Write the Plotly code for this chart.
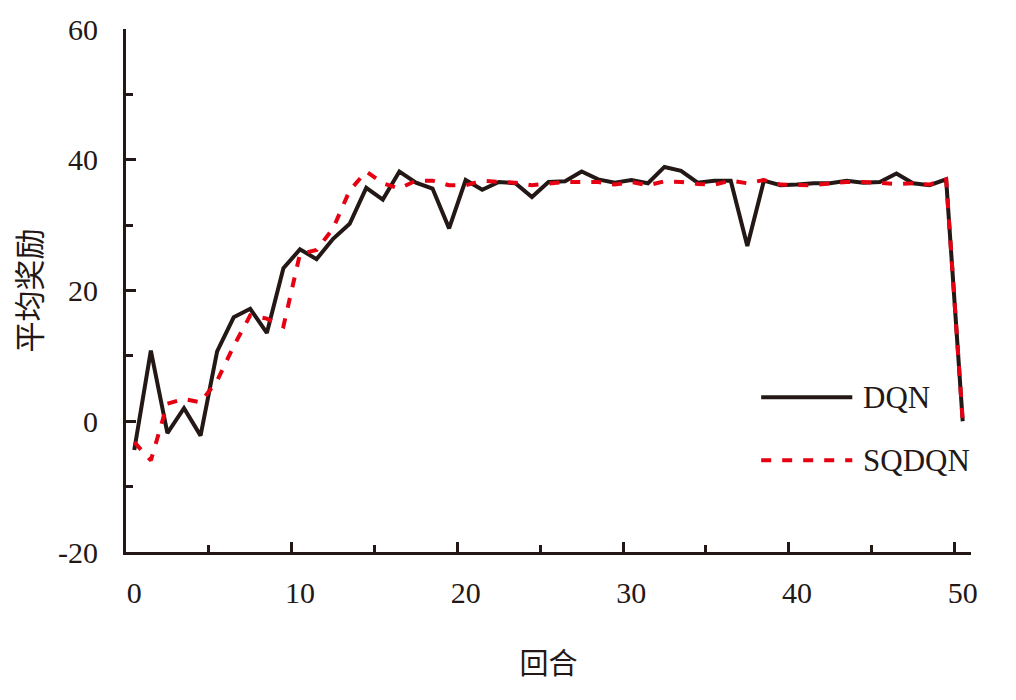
import plotly.graph_objects as go

episodes = list(range(51))
dqn = [-4.4, 10.8, -1.8, 2.0, -2.2, 10.7, 15.9, 17.2, 13.5, 23.4,
       26.3, 24.8, 27.9, 30.2, 35.7, 33.9, 38.2, 36.5, 35.6, 29.5,
       36.9, 35.4, 36.6, 36.4, 34.3, 36.6, 36.7, 38.2, 37.0, 36.5,
       36.9, 36.4, 38.9, 38.3, 36.5, 36.8, 36.8, 26.8, 36.8, 36.1,
       36.2, 36.4, 36.4, 36.8, 36.5, 36.6, 37.9, 36.4, 36.1, 37.0, 0.0]
sqdqn = [-3.2, -6.0, 2.7, 3.4, 2.9, 6.2, 11.5, 16.2, 15.7, 14.5,
         25.6, 26.2, 29.5, 35.3, 38.2, 36.4, 35.6, 36.8, 36.8, 36.1,
         36.1, 36.8, 36.6, 36.5, 36.1, 36.4, 36.6, 36.6, 36.6, 36.2,
         36.6, 36.1, 36.7, 36.6, 36.3, 36.2, 36.8, 36.4, 36.9, 36.2,
         36.2, 36.1, 36.4, 36.6, 36.6, 36.4, 36.3, 36.4, 36.2, 37.0, 0.0]
x_labels = [0, 10, 20, 30, 40, 50]
y_ticks = [-20, 0, 20, 40, 60]
y_ticktext = ["-20", "0", "20", "40", "60"]

BLACK = "#231815"
RED = "#e60012"
FONT = "Liberation Serif, Noto Sans CJK SC, serif"

fig = go.Figure()
fig.add_trace(go.Scatter(x=episodes, y=dqn, mode="lines", name="DQN",
                         line=dict(color=BLACK, width=4), showlegend=False))
fig.add_trace(go.Scatter(x=episodes, y=sqdqn, mode="lines", name="SQDQN", xaxis="x2",
                         line=dict(color=RED, width=4, dash="10px,11px"), showlegend=False))

fig.update_layout(
    width=1016, height=700,
    margin=dict(l=118, r=53, t=21, b=156),
    plot_bgcolor="white", paper_bgcolor="white",
    font=dict(family=FONT, size=30, color=BLACK),
    xaxis=dict(range=[-0.5, 50.5], tickvals=x_labels, ticks="", showgrid=False,
               zeroline=False, showline=True, linecolor=BLACK, linewidth=3,
               automargin=False,
               ticklabelstandoff=12, tickfont=dict(size=30, color=BLACK),
               title=dict(text="回合", font=dict(size=29, color=BLACK), standoff=46)),
    xaxis2=dict(overlaying="x", matches="x", anchor="y", side="bottom", automargin=False,
                tickvals=[9.5, 19.5, 29.5, 39.5, 49.5], ticks="inside", ticklen=10,
                tickwidth=3, tickcolor=BLACK, showticklabels=False, showgrid=False,
                zeroline=False, showline=False,
                minor=dict(tickvals=[4.5, 14.5, 24.5, 34.5, 44.5], ticks="inside",
                           ticklen=7, tickwidth=3, tickcolor=BLACK, showgrid=False)),
    yaxis=dict(range=[-20, 60], tickvals=y_ticks, ticktext=y_ticktext, ticks="inside",
               ticklen=10, tickwidth=3, automargin=False,
               tickcolor=BLACK, showgrid=False, zeroline=False, showline=True,
               linecolor=BLACK, linewidth=3, ticklabelstandoff=19,
               tickfont=dict(size=30, color=BLACK),
               minor=dict(dtick=10, ticks="inside", ticklen=7, tickwidth=3,
                          tickcolor=BLACK, showgrid=False),
               title=dict(text="平均奖励", font=dict(size=31, color=BLACK), standoff=8)),
)

# manual legend
fig.add_shape(type="line", xref="paper", yref="paper", x0=0.7517, x1=0.8595, y0=0.296, y1=0.296,
              line=dict(color=BLACK, width=4))
fig.add_shape(type="line", xref="paper", yref="paper", x0=0.7517, x1=0.8595, y0=0.1755, y1=0.1755,
              line=dict(color=RED, width=4, dash="10px,11px"))
fig.add_annotation(xref="paper", yref="paper", x=0.870, y=0.296, text="DQN", showarrow=False,
                   xanchor="left", yanchor="middle", font=dict(size=31, color=BLACK, family=FONT))
fig.add_annotation(xref="paper", yref="paper", x=0.870, y=0.1755, text="SQDQN", showarrow=False,
                   xanchor="left", yanchor="middle", font=dict(size=31, color=BLACK, family=FONT))

fig.write_html("out.html")
